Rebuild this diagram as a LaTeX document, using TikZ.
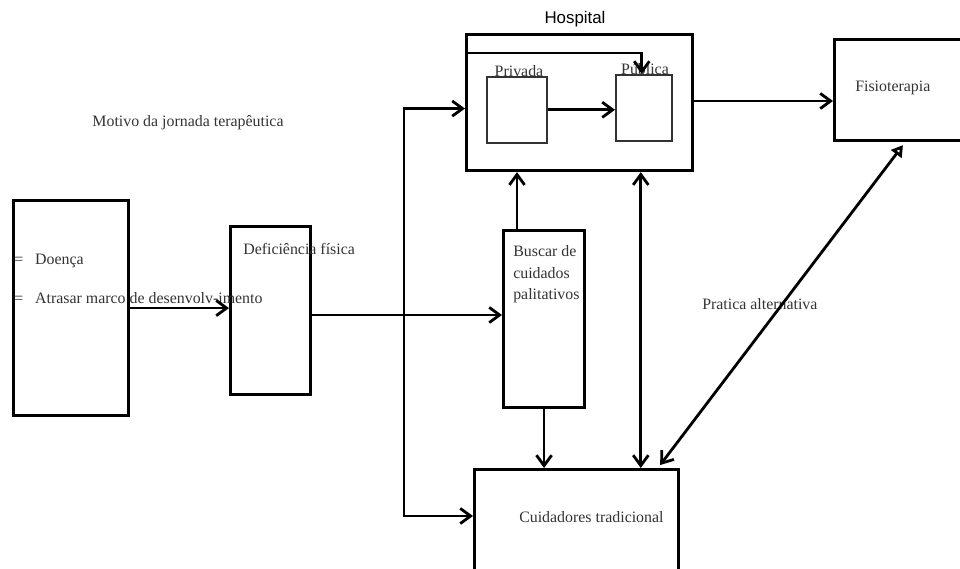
\documentclass[tikz,border=0pt]{standalone}
\usepackage{fontspec}
\setmainfont{Liberation Serif}
\newfontfamily\hospfont{Liberation Sans}
\usetikzlibrary{arrows.meta,calc,positioning}
\tikzset{%
	>={Straight Barb[length=2.6mm,width=3.8mm]},
	% Specifications for style of nodes:
	base/.style = {rectangle, draw=black, line width=2.2pt, inner sep=0pt},
	inner/.style = {rectangle, draw=black!80, line width=1.1pt, inner sep=0pt},
	txt/.style = {inner sep=0pt, text=black!80, font=\fontsize{11.3}{13.6}\selectfont},
	arr/.style = {line width=2pt, ->},
	arrboth/.style = {line width=2pt, <->}
}

\begin{document}
\begin{tikzpicture}[x=0.025cm, y=-0.025cm]
		\useasboundingbox (0,0) rectangle (960,568);
		\clip (0,0) rectangle (960,568);
		% Specification of nodes (position, etc.)
		
		\node (motivo)     [base, anchor=north west, minimum width=2.875cm, minimum height=5.375cm] at (12,199) {};
		\node (deficiencia)[base, anchor=north west, minimum width=2cm, minimum height=4.2cm] at (229,225) {};
		\node (hospital)   [base, anchor=north west, minimum width=5.65cm, minimum height=3.4cm] at (465,33) {};
		\node (privada)    [inner, anchor=north west, minimum width=1.5cm, minimum height=1.65cm] at (486,76) {};
		\node (publica)    [inner, anchor=north west, minimum width=1.4cm, minimum height=1.65cm] at (615,74) {};
		\node (buscar)     [base, anchor=north west, minimum width=2.025cm, minimum height=4.425cm] at (502,229) {};
		\node (cuidadores) [base, anchor=north west, minimum width=5.1cm, minimum height=3cm] at (473,468) {};
		\node (fisio)      [base, anchor=north west, minimum width=3.55cm, minimum height=2.525cm] at (833,38) {};
		
		% texts
		\node (tmotivo) [txt] at (188,123) {Motivo da jornada terapêutica};
		\node (tdoenca) [txt, anchor=west] at (14,261) {=\hspace{0.3cm}Doença};
		\node (tatrasar)[txt, anchor=west] at (14,298) {=\hspace{0.3cm}Atrasar marco de desenvolv-imento};
		\node (tdefic)  [txt, anchor=west] at (243,249) {Deficiência física};
		\node (thosp)   [inner sep=0pt, font=\hospfont\fontsize{12}{14}\selectfont] at (575,19) {Hospital};
		\node (tpriv)   [txt] at (519,71) {Privada};
		\node (tpubl)   [txt] at (645,69) {Pública};
		\node (tbuscar) [txt, anchor=north west, align=left, font=\fontsize{11.3}{15.5}\selectfont] at (513,245) {Buscar de\\cuidados\\palitativos};
		\node (tcuid)   [txt, anchor=west] at (519,517) {Cuidadores tradicional};
		\node (tfisio)  [txt, anchor=west] at (855,88) {Fisioterapia};
		\node (tpratica)[txt, anchor=west] at (702,304) {Pratica alternativa};
		
		% connectors
		\coordinate (junc) at (404,315);
		\draw[arr] (motivo.east) -- (motivo.east -| deficiencia.west);
		\draw[arr] (deficiencia.east |- junc) -- (buscar.west |- junc);
		\draw[arr] (junc) |- ([yshift=-0.15cm]hospital.west);
		\draw[arr] (junc) |- ($(cuidadores.north west)+(0,48)$);
		\draw[arr] (privada) -- (privada -| publica.west);
		\draw[arr] ($(hospital.north west)+(0,20)$) -| ([xshift=-0.05cm]publica.north);
		\draw[arr] ([xshift=0.375cm]buscar.north west) -- ([xshift=0.375cm]buscar.north west |- hospital.south);
		\draw[arr] (buscar.south) -- (buscar.south |- cuidadores.north);
		\draw[arrboth] ([xshift=-0.075cm]publica.south |- hospital.south) -- ([xshift=-0.075cm]publica.south |- cuidadores.north);
		\draw[arr] (hospital.east |- 0,101) -- (fisio.west |- 0,101);
		\draw[line width=2pt, {Straight Barb[length=2.6mm,width=3.8mm]}-{Triangle[open,length=2.8mm,width=3.2mm]}] ($(cuidadores.north east)+(-20,-3)$) -- ($(fisio.south west)+(70,3)$);
		
		\end{tikzpicture}
\end{document}
